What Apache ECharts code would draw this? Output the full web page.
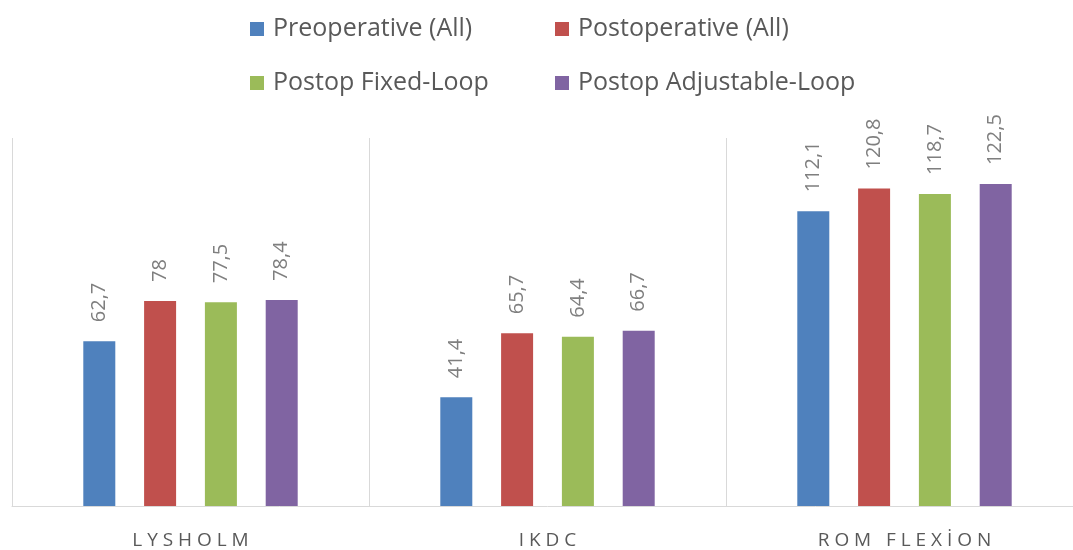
<!DOCTYPE html>
<html>
<head>
<meta charset="utf-8">
<script src="https://cdn.jsdelivr.net/npm/echarts@6/dist/echarts.min.js"></script>
<style>
  html, body { margin: 0; padding: 0; background: #fff; overflow: hidden; }
  /* the last category runs a little past the right edge of the window */
  #chart { width: 1083px; height: 550px; }
</style>
</head>
<body>
<div id="chart"></div>
<script>
// Outcome scores by measure
const categories = ['LYSHOLM', 'IKDC', 'ROM FLEXİON'];
const seriesNames = ['Preoperative (All)', 'Postoperative (All)', 'Postop Fixed-Loop', 'Postop Adjustable-Loop'];
const preoperativeAll = [62.7, 41.4, 112.1];
const postoperativeAll = [78, 65.7, 120.8];
const postopFixedLoop = [77.5, 64.4, 118.7];
const postopAdjustableLoop = [78.4, 66.7, 122.5];

const seriesValues = [preoperativeAll, postoperativeAll, postopFixedLoop, postopAdjustableLoop];
const colors = ['#4f81bd', '#c0504d', '#9bbb59', '#8064a2'];
const FONT = '"Open Sans", "Liberation Sans", sans-serif';

// spaced-out capitals for the category labels
const spaced = s => s.split('').join(' ');

// one legend block per entry so the two columns line up
const legendSpots = [
  { left: 250, top: 15 },
  { left: 555, top: 15 },
  { left: 250, top: 69 },
  { left: 555, top: 69 }
];
const legends = seriesNames.map((name, i) => ({
  data: [name],
  left: legendSpots[i].left,
  top: legendSpots[i].top,
  padding: 0,
  icon: 'rect',
  itemWidth: 14,
  itemHeight: 14,
  selectedMode: false,
  textStyle: {
    fontFamily: FONT,
    fontSize: 25,
    color: '#595959',
    lineHeight: 28,
    padding: [0, 0, 0, 4]
  }
}));

const chart = echarts.init(document.getElementById('chart'), null, { renderer: 'canvas' });
chart.setOption({
  animation: false,
  backgroundColor: '#ffffff',
  legend: legends,
  grid: { left: 12, right: 0, top: 138, bottom: 43, containLabel: false },
  xAxis: {
    type: 'category',
    data: categories,
    boundaryGap: true,
    axisLine: { show: true, lineStyle: { color: '#d9d9d9', width: 1 } },
    axisTick: { show: false },
    splitLine: { show: true, lineStyle: { color: '#d9d9d9', width: 1 } },
    axisLabel: {
      fontFamily: FONT,
      fontSize: 19,
      color: '#595959',
      margin: 25,
      formatter: v => spaced(v)
    }
  },
  yAxis: {
    type: 'value',
    min: 0,
    max: 140,
    show: false,
    splitLine: { show: false }
  },
  series: seriesNames.map((name, i) => ({
    name: name,
    type: 'bar',
    data: seriesValues[i],
    barWidth: 32,
    barGap: '90%',
    itemStyle: { color: colors[i] },
    label: {
      show: true,
      position: 'top',
      distance: 19,
      rotate: 90,
      align: 'left',
      verticalAlign: 'middle',
      fontFamily: FONT,
      fontSize: 20,
      color: '#7f7f7f',
      formatter: p => String(p.value).replace('.', ',')
    }
  }))
});
</script>
</body>
</html>
